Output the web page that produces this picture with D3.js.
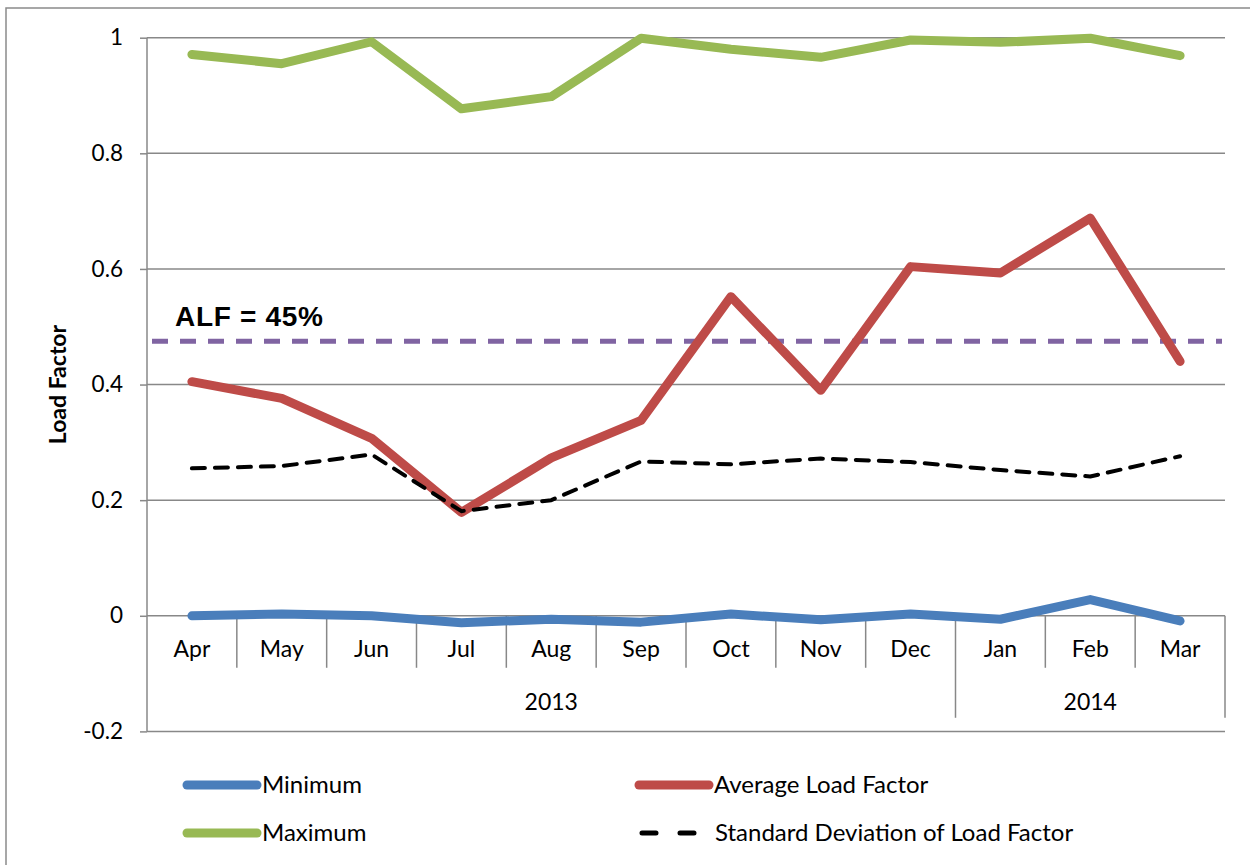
<!DOCTYPE html>
<html>
<head>
<meta charset="utf-8">
<script src="https://cdn.jsdelivr.net/npm/d3@7"></script>
<style>
  body { margin: 0; background: #fff; }
  svg { display: block; font-family: Lato, "Open Sans", sans-serif; }
</style>
</head>
<body>
<div class="canvas"></div>
<script>
// data
const months = ['Apr', 'May', 'Jun', 'Jul', 'Aug', 'Sep', 'Oct', 'Nov', 'Dec', 'Jan', 'Feb', 'Mar'];
const years = [{ name: '2013', from: 'Apr', to: 'Dec' }, { name: '2014', from: 'Jan', to: 'Mar' }];
const minimum = [0.0, 0.003, 0.0, -0.012, -0.006, -0.011, 0.003, -0.007, 0.003, -0.006, 0.028, -0.009];
const maximum = [0.971, 0.955, 0.993, 0.877, 0.898, 0.999, 0.98, 0.966, 0.996, 0.992, 0.999, 0.969];
const average = [0.405, 0.376, 0.307, 0.179, 0.273, 0.338, 0.552, 0.39, 0.604, 0.593, 0.688, 0.44];
const stdDev = [0.255, 0.259, 0.279, 0.181, 0.2, 0.267, 0.262, 0.272, 0.266, 0.252, 0.241, 0.276];
const yTicks = [-0.2, 0, 0.2, 0.4, 0.6, 0.8, 1];
const alf = 0.475;
const alfLabel = 'ALF = 45%';

const dims = { width: 1250, height: 865 };
const plot = { left: 147, right: 1225, top: 37.7, bottom: 731.4 };

const svg = d3.select('.canvas').append('svg')
	.attr('width', dims.width)
	.attr('height', dims.height);

// outer chart border (right/bottom run off the picture)
svg.append('rect')
	.attr('x', 6).attr('y', 8)
	.attr('width', 1300).attr('height', 900)
	.attr('fill', 'none')
	.attr('stroke', '#8a8a8a')
	.attr('stroke-width', 1.5);

const x = d3.scaleBand()
	.domain(months)
	.range([plot.left, plot.right])
	.padding(0);

const y = d3.scaleLinear()
	.domain([-0.2, 1])
	.range([plot.bottom, plot.top]);

const cx = m => x(m) + x.bandwidth() / 2;

const gridColour = '#888';

// gridlines + y axis
const yAxis = d3.axisLeft(y)
	.tickValues(yTicks)
	.tickSize(7)
	.tickPadding(17)
	.tickFormat(d => String(+d.toFixed(1)));

const yg = svg.append('g')
	.attr('transform', `translate(${plot.left}, 0)`)
	.call(yAxis);
yg.select('.domain').remove();
yg.selectAll('line').attr('stroke', gridColour).attr('stroke-width', 1.5);
yg.selectAll('text')
	.attr('font-size', 22.5)
	.attr('fill', '#000')
	.attr('font-family', 'Lato, sans-serif');

svg.append('g').selectAll('line')
	.data(yTicks)
	.enter().append('line')
	.attr('x1', plot.left).attr('x2', plot.right)
	.attr('y1', d => y(d)).attr('y2', d => y(d))
	.attr('stroke', gridColour)
	.attr('stroke-width', 1.5);

// left axis line
svg.append('line')
	.attr('x1', plot.left).attr('x2', plot.left)
	.attr('y1', plot.top).attr('y2', plot.bottom)
	.attr('stroke', gridColour)
	.attr('stroke-width', 1.5);

// category axis at zero
const y0 = y(0);
const monthTickLen = 52;
const yearTickLen = 102;

const xAxis = d3.axisBottom(x)
	.tickSize(0)
	.tickPadding(25);

const xg = svg.append('g')
	.attr('transform', `translate(0, ${y0})`)
	.call(xAxis);
xg.select('.domain').remove();
xg.selectAll('text')
	.attr('font-size', 23)
	.attr('fill', '#000')
	.attr('font-family', 'Lato, sans-serif');

// separators between months
const yearStarts = years.map(yr => yr.from);
svg.append('g').selectAll('line')
	.data(months.slice(1).concat(['__end']))
	.enter().append('line')
	.attr('x1', d => d === '__end' ? plot.right : x(d))
	.attr('x2', d => d === '__end' ? plot.right : x(d))
	.attr('y1', y0)
	.attr('y2', d => (d === '__end' || yearStarts.includes(d)) ? y0 + yearTickLen : y0 + monthTickLen)
	.attr('stroke', gridColour)
	.attr('stroke-width', 1.5);

// year labels
svg.append('g').selectAll('text')
	.data(years)
	.enter().append('text')
	.attr('x', d => (x(d.from) + x(d.to) + x.bandwidth()) / 2)
	.attr('y', y0 + 94)
	.attr('text-anchor', 'middle')
	.attr('font-size', 23)
	.text(d => d.name);

// y axis title
svg.append('text')
	.attr('transform', `translate(66, ${(y(1) + y(-0.2)) / 2}) rotate(-90)`)
	.attr('text-anchor', 'middle')
	.attr('font-size', 23)
	.attr('font-weight', 'bold')
	.text('Load Factor');

// ALF reference line
svg.append('line')
	.attr('x1', plot.left + 5).attr('x2', plot.right - 3)
	.attr('y1', y(alf)).attr('y2', y(alf))
	.attr('stroke', '#8064A2')
	.attr('stroke-width', 5)
	.attr('stroke-dasharray', '16 12');

svg.append('text')
	.attr('x', 175)
	.attr('y', y(alf) - 15)
	.attr('font-size', 28)
	.attr('font-weight', 'bold')
	.attr('font-family', '"Liberation Sans", Arial, sans-serif')
	.attr('textLength', 148)
	.text(alfLabel);

// series lines
const line = d3.line()
	.x((d, i) => cx(months[i]))
	.y(d => y(d));

const series = [
	{ name: 'Minimum', values: minimum, colour: '#4A7EBB', width: 9, dash: null },
	{ name: 'Average Load Factor', values: average, colour: '#BE4B48', width: 9, dash: null },
	{ name: 'Maximum', values: maximum, colour: '#98B954', width: 9, dash: null },
	{ name: 'Standard Deviation of Load Factor', values: stdDev, colour: '#000', width: 4, dash: '13 10' }
];

const drawOrder = [series[1], series[3], series[2], series[0]];

svg.append('g').selectAll('path')
	.data(drawOrder)
	.enter().append('path')
	.attr('d', d => line(d.values))
	.attr('fill', 'none')
	.attr('stroke', d => d.colour)
	.attr('stroke-width', d => d.width)
	.attr('stroke-linecap', 'round')
	.attr('stroke-linejoin', 'round')
	.attr('stroke-dasharray', d => d.dash);

// legend
const legendPos = [
	{ x: 187, y: 785 },
	{ x: 639, y: 785 },
	{ x: 187, y: 833 },
	{ x: 639, y: 833 }
];

const legend = svg.append('g').selectAll('g')
	.data(series)
	.enter().append('g')
	.attr('transform', (d, i) => `translate(${legendPos[i].x}, ${legendPos[i].y})`);

legend.append('line')
	.attr('x1', d => d.dash ? 3 : 0)
	.attr('x2', d => d.dash ? 62 : 70)
	.attr('y1', 0).attr('y2', 0)
	.attr('stroke', d => d.colour)
	.attr('stroke-width', d => d.dash ? 5 : 9)
	.attr('stroke-linecap', 'round')
	.attr('stroke-dasharray', d => d.dash ? '14 24' : null);

legend.append('text')
	.attr('x', d => d.dash ? 76 : 75)
	.attr('y', 8)
	.attr('font-size', 24)
	.text(d => d.name);
</script>
</body>
</html>
